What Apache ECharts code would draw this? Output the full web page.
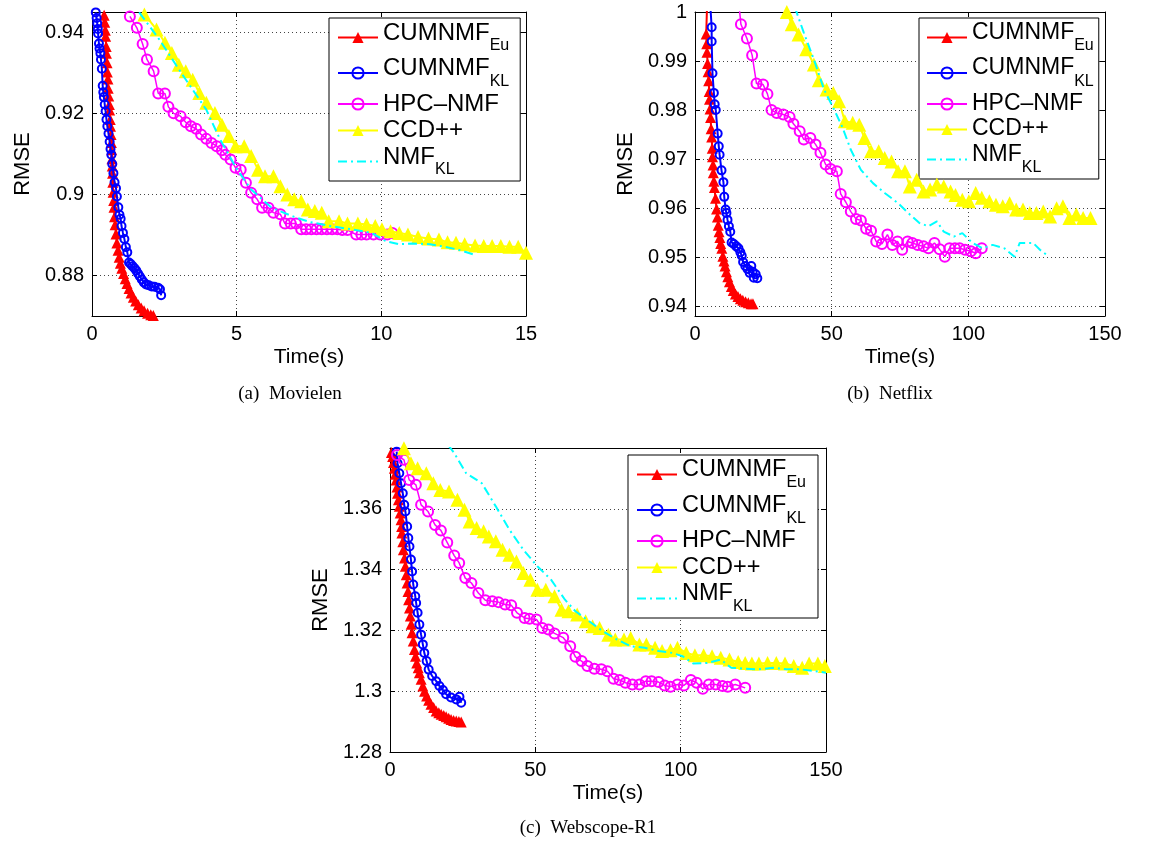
<!DOCTYPE html>
<html><head><meta charset="utf-8">
<script src="https://cdn.jsdelivr.net/npm/echarts@6/dist/echarts.min.js"></script>
<style>html,body{margin:0;padding:0;background:#fff}#c{width:1160px;height:843px}</style>
</head><body><div id="c"></div>
<script>
// ---------- names / ticks ----------
const NAMES = ['CUMNMF_Eu', 'CUMNMF_KL', 'HPC–NMF', 'CCD++', 'NMF_KL'];
const A_XTICKS = [0, 5, 10, 15];
const A_YTICKS = [0.88, 0.90, 0.92, 0.94];
const B_XTICKS = [0, 50, 100, 150];
const B_YTICKS = [0.94, 0.95, 0.96, 0.97, 0.98, 0.99, 1];
const C_XTICKS = [0, 50, 100, 150];
const C_YTICKS = [1.28, 1.30, 1.32, 1.34, 1.36];

// ---------- (a) Movielen ----------
const A_EU = [[0.42,0.9442],[0.44,0.9425],[0.46,0.9405],[0.47,0.9390],[0.49,0.9365],[0.50,0.9348],[0.52,0.9325],[0.53,0.9302],[0.55,0.9285],[0.56,0.9262],[0.58,0.9243],[0.60,0.9222],[0.61,0.9208],[0.63,0.9185],[0.64,0.9168],[0.66,0.9148],[0.67,0.9128],[0.68,0.9110],[0.69,0.9088],[0.70,0.9070],[0.71,0.9052],[0.72,0.9030],[0.73,0.9005],[0.75,0.8985],[0.76,0.8968],[0.78,0.8945],[0.80,0.8925],[0.83,0.8902],[0.86,0.8880],[0.90,0.8862],[0.94,0.8845],[0.98,0.8830],[1.03,0.8818],[1.09,0.8805],[1.15,0.8792],[1.21,0.8780],[1.28,0.8768],[1.35,0.8757],[1.43,0.8746],[1.51,0.8737],[1.60,0.8728],[1.70,0.8720],[1.80,0.8713],[1.92,0.8707],[2.03,0.8703],[2.12,0.8701]];
const A_KL = [[0.13,0.9449],[0.16,0.9435],[0.18,0.9422],[0.20,0.9408],[0.21,0.9397],[0.24,0.9372],[0.26,0.9360],[0.29,0.9348],[0.31,0.9333],[0.34,0.9310],[0.37,0.9268],[0.39,0.9252],[0.41,0.9240],[0.44,0.9222],[0.47,0.9205],[0.50,0.9185],[0.53,0.9168],[0.57,0.9150],[0.61,0.9130],[0.64,0.9112],[0.67,0.9098],[0.70,0.9075],[0.74,0.9052],[0.78,0.9030],[0.83,0.9015],[0.86,0.8995],[0.91,0.8968],[0.95,0.8950],[0.99,0.8940],[1.02,0.8922],[1.07,0.8905],[1.12,0.8890],[1.17,0.8870],[1.22,0.8857],[1.28,0.8832],[1.34,0.8828],[1.40,0.8823],[1.47,0.8818],[1.53,0.8812],[1.59,0.8805],[1.65,0.8798],[1.72,0.8790],[1.79,0.8783],[1.87,0.8778],[1.96,0.8776],[2.06,0.8773],[2.16,0.8772],[2.28,0.8770],[2.35,0.8766],[2.39,0.8751]];
const A_HPC = [[1.31,0.9439],[1.55,0.9411],[1.75,0.9371],[1.90,0.9333],[2.13,0.9304],[2.29,0.9249],[2.52,0.9249],[2.64,0.9216],[2.82,0.9200],[3.06,0.9193],[3.24,0.9178],[3.42,0.9168],[3.60,0.9162],[3.77,0.9148],[3.95,0.9137],[4.13,0.9127],[4.31,0.9119],[4.49,0.9109],[4.61,0.9098],[4.79,0.9086],[4.96,0.9066],[5.14,0.9061],[5.32,0.9029],[5.50,0.9004],[5.71,0.8988],[5.88,0.8967],[6.10,0.8967],[6.27,0.8955],[6.51,0.8951],[6.67,0.8928],[6.87,0.8928],[7.05,0.8928],[7.23,0.8914],[7.40,0.8914],[7.58,0.8914],[7.76,0.8914],[7.94,0.8914],[8.12,0.8914],[8.30,0.8914],[8.48,0.8914],[8.65,0.8912],[8.83,0.8912],[9.13,0.8901],[9.31,0.8901],[9.49,0.8901],[9.73,0.8901],[9.96,0.8901],[10.20,0.8901],[10.38,0.8905]];
const A_CCD = [[1.81,0.9444],[2.23,0.9407],[2.52,0.9374],[2.76,0.9349],[3.00,0.9320],[3.24,0.9304],[3.48,0.9283],[3.71,0.9250],[3.95,0.9226],[4.25,0.9201],[4.49,0.9172],[4.73,0.9144],[4.96,0.9119],[5.26,0.9119],[5.50,0.9095],[5.74,0.9061],[5.98,0.9045],[6.27,0.9045],[6.51,0.9020],[6.75,0.9000],[6.99,0.8988],[7.23,0.8983],[7.46,0.8963],[7.70,0.8959],[7.94,0.8955],[8.18,0.8934],[8.54,0.8934],[8.83,0.8928],[9.19,0.8928],[9.49,0.8926],[9.79,0.8922],[10.02,0.8914],[10.32,0.8909],[10.62,0.8905],[10.92,0.8901],[11.27,0.8895],[11.63,0.8891],[11.99,0.8889],[12.29,0.8882],[12.58,0.8881],[12.88,0.8877],[13.24,0.8874],[13.54,0.8873],[13.83,0.8873],[14.13,0.8873],[14.43,0.8871],[14.73,0.8871],[15.00,0.8856]];
const A_NMF = [[1.63,0.9449],[2.29,0.9386],[3.12,0.9296],[3.95,0.9209],[4.43,0.9135],[5.02,0.9061],[5.50,0.9012],[6.21,0.8967],[6.93,0.8946],[7.52,0.8932],[8.24,0.8922],[8.95,0.8914],[9.67,0.8905],[10.14,0.8885],[10.62,0.8877],[11.10,0.8879],[11.69,0.8877],[12.17,0.8871],[12.64,0.8864],[13.18,0.8852]];

// ---------- (b) Netflix ----------
const B_EU = [[4.5,1.003],[4.1,0.9955],[4.3,0.9935],[4.4,0.9918],[4.6,0.9895],[4.8,0.9878],[5.0,0.9860],[5.2,0.9838],[5.3,0.9822],[5.5,0.9802],[5.7,0.9785],[5.9,0.9762],[6.1,0.9745],[6.3,0.9722],[6.4,0.9705],[6.6,0.9688],[6.7,0.9672],[6.9,0.9655],[7.1,0.9642],[7.5,0.9620],[7.9,0.9598],[8.2,0.9582],[8.5,0.9565],[8.8,0.9552],[9.1,0.9540],[9.4,0.9528],[9.8,0.9518],[10.2,0.9502],[10.6,0.9492],[11.0,0.9482],[11.5,0.9470],[12.0,0.9460],[12.6,0.9450],[13.3,0.9440],[14.0,0.9432],[14.8,0.9425],[15.7,0.9420],[16.6,0.9415],[17.5,0.9412],[18.5,0.9409],[19.5,0.9407],[20.5,0.9405],[21.2,0.9405]];
const B_KL = [[5.4,1.003],[6.1,0.9969],[6.1,0.9940],[6.4,0.9875],[6.9,0.9835],[7.2,0.9812],[7.6,0.9800],[8.3,0.9752],[8.7,0.9726],[9.0,0.9709],[9.7,0.9677],[10.4,0.9653],[10.7,0.9623],[11.2,0.9597],[11.5,0.9590],[11.9,0.9576],[12.4,0.9563],[12.9,0.9552],[13.4,0.9530],[14.2,0.9527],[15.1,0.9522],[15.9,0.9518],[16.6,0.9510],[17.1,0.9503],[17.6,0.9490],[18.4,0.9482],[19.2,0.9476],[20.0,0.9468],[20.6,0.9482],[21.1,0.9470],[21.5,0.9458],[22.2,0.9465],[22.8,0.9457]];
const B_HPC = [[15.8,1.003],[16.8,0.9975],[19.0,0.9946],[20.9,0.9912],[22.5,0.9854],[24.9,0.9852],[26.5,0.9833],[28.0,0.9800],[29.9,0.9794],[32.3,0.9791],[34.6,0.9786],[36.0,0.9772],[38.3,0.9757],[39.8,0.9740],[42.2,0.9743],[44.1,0.9730],[45.9,0.9713],[47.8,0.9689],[49.6,0.9680],[51.9,0.9675],[53.3,0.9629],[55.2,0.9612],[57.0,0.9593],[58.9,0.9578],[60.7,0.9575],[62.6,0.9558],[64.4,0.9554],[66.3,0.9532],[68.4,0.9527],[70.4,0.9546],[72.2,0.9525],[74.1,0.9532],[75.8,0.9515],[77.8,0.9532],[79.5,0.9529],[81.5,0.9525],[83.6,0.9522],[85.4,0.9518],[87.6,0.9529],[89.5,0.9516],[91.4,0.9501],[93.1,0.9518],[95.1,0.9518],[96.8,0.9518],[98.8,0.9515],[100.9,0.9512],[102.7,0.9508],[104.9,0.9518]];
const B_CCD = [[33.6,1.0],[35.4,0.9975],[37.9,0.9954],[40.7,0.9924],[43.5,0.9893],[45.3,0.9861],[48.1,0.9842],[50.6,0.9835],[52.7,0.9818],[54.8,0.9777],[57.7,0.9774],[60.1,0.9770],[62.0,0.9743],[64.4,0.9716],[67.2,0.9716],[69.4,0.9702],[71.9,0.9695],[74.3,0.9675],[76.8,0.9675],[78.6,0.9644],[81.1,0.9658],[83.6,0.9634],[86.0,0.9638],[88.5,0.9648],[91.0,0.9644],[93.5,0.9634],[95.3,0.9627],[97.8,0.9617],[100.2,0.9614],[102.7,0.9631],[104.9,0.9621],[107.7,0.9614],[110.1,0.9607],[112.6,0.9604],[115.1,0.9610],[117.5,0.9597],[120.0,0.9597],[122.5,0.9590],[124.9,0.9590],[127.4,0.9593],[129.9,0.9583],[132.3,0.9600],[134.6,0.9604],[137.0,0.9580],[139.5,0.9587],[142.0,0.9580],[144.7,0.9580]];
const B_NMF = [[36.5,1.001],[39.8,0.9958],[43.5,0.9903],[47.2,0.9842],[50.9,0.9801],[54.0,0.9764],[57.0,0.9719],[60.7,0.9678],[65.1,0.9651],[69.4,0.9631],[74.3,0.9610],[78.0,0.9590],[82.0,0.9570],[85.4,0.9563],[88.5,0.9573],[91.0,0.9552],[94.7,0.9542],[97.8,0.9549],[101.5,0.9529],[105.2,0.9518],[108.9,0.9525],[113.2,0.9518],[116.9,0.9501],[118.8,0.9529],[123.7,0.9529],[126.2,0.9515],[128.6,0.9505]];

// ---------- (c) Webscope-R1 ----------
const C_EU = [[0.5,1.3785],[0.9,1.3772],[1.2,1.3752],[1.5,1.3733],[1.8,1.3714],[2.1,1.3695],[2.4,1.3672],[2.6,1.3651],[2.9,1.3630],[3.2,1.3608],[3.5,1.3586],[3.8,1.3564],[4.0,1.3542],[4.1,1.3520],[4.4,1.3492],[4.6,1.3465],[5.0,1.3438],[5.3,1.3411],[5.6,1.3383],[5.9,1.3356],[6.2,1.3328],[6.4,1.3301],[6.7,1.3274],[7.0,1.3247],[7.3,1.3220],[7.6,1.3192],[8.0,1.3165],[8.4,1.3137],[8.8,1.3115],[9.2,1.3093],[9.7,1.3077],[10.1,1.3061],[10.7,1.3039],[11.3,1.3017],[11.9,1.3000],[12.6,1.2984],[13.3,1.2970],[14.1,1.2957],[15.0,1.2946],[15.9,1.2935],[16.8,1.2929],[17.6,1.2924],[18.5,1.2920],[19.3,1.2916],[20.2,1.2911],[21.0,1.2907],[21.9,1.2904],[22.8,1.2902],[23.7,1.2900],[24.5,1.2899]];
const C_KL = [[2.3,1.3788],[2.6,1.3750],[3.2,1.3717],[3.8,1.3684],[4.4,1.3651],[4.9,1.3613],[5.3,1.3591],[5.9,1.3542],[6.3,1.3504],[6.7,1.3476],[7.2,1.3433],[7.6,1.3394],[8.0,1.3351],[8.7,1.3312],[9.0,1.3290],[9.5,1.3258],[10.1,1.3219],[10.7,1.3186],[11.3,1.3154],[11.8,1.3126],[12.6,1.3099],[13.3,1.3071],[14.5,1.3050],[15.9,1.3033],[17.0,1.3017],[18.2,1.3004],[19.3,1.2990],[21.0,1.2979],[22.8,1.2973],[23.9,1.2982],[24.5,1.2962]];
const C_HPC = [[2.4,1.3777],[4.8,1.3761],[6.6,1.3695],[8.9,1.3679],[10.7,1.3613],[13.1,1.3591],[15.5,1.3547],[17.5,1.3529],[19.7,1.3489],[22.1,1.3446],[23.8,1.3422],[25.9,1.3372],[28.0,1.3356],[30.4,1.3323],[32.8,1.3299],[35.2,1.3296],[37.3,1.3293],[39.6,1.3285],[41.7,1.3283],[43.7,1.3258],[46.3,1.3241],[48.0,1.3238],[50.4,1.3236],[52.4,1.3208],[54.5,1.3203],[56.6,1.3190],[59.6,1.3176],[62.0,1.3148],[63.8,1.3113],[65.9,1.3099],[67.9,1.3083],[70.3,1.3074],[72.7,1.3072],[74.8,1.3066],[76.9,1.3041],[79.0,1.3037],[81.0,1.3028],[83.4,1.3022],[85.8,1.3022],[88.0,1.3033],[90.0,1.3033],[92.4,1.3030],[94.5,1.3019],[96.5,1.3015],[98.9,1.3022],[101.1,1.3019],[103.5,1.3037],[105.5,1.3028],[107.6,1.3008],[109.7,1.3022],[112.0,1.3022],[114.4,1.3017],[116.2,1.3015],[118.8,1.3022],[122.2,1.3011]];
const C_CCD = [[4.8,1.3799],[7.2,1.3750],[9.5,1.3733],[12.5,1.3717],[14.9,1.3684],[17.3,1.3662],[20.3,1.3657],[23.2,1.3630],[25.6,1.3597],[27.4,1.3558],[29.8,1.3537],[32.2,1.3526],[34.0,1.3509],[36.4,1.3493],[38.7,1.3465],[41.1,1.3449],[43.5,1.3427],[45.9,1.3389],[48.3,1.3367],[50.7,1.3334],[53.6,1.3334],[56.6,1.3312],[59.0,1.3268],[61.4,1.3263],[64.4,1.3252],[67.3,1.3230],[69.7,1.3214],[72.1,1.3208],[75.1,1.3186],[77.5,1.3170],[80.5,1.3170],[82.8,1.3175],[85.8,1.3154],[88.2,1.3154],[91.2,1.3143],[93.6,1.3132],[96.5,1.3135],[98.9,1.3143],[101.9,1.3126],[104.9,1.3118],[107.9,1.3118],[110.8,1.3115],[113.8,1.3110],[116.8,1.3104],[119.8,1.3096],[122.2,1.3093],[124.5,1.3091],[126.9,1.3091],[129.9,1.3093],[132.9,1.3093],[135.9,1.3091],[138.9,1.3083],[141.8,1.3077],[144.2,1.3091],[147.2,1.3091],[149.6,1.3083]];
const C_NMF = [[20.0,1.3810],[22.1,1.3783],[26.2,1.3717],[31.6,1.3684],[36.4,1.3608],[41.1,1.3531],[45.9,1.3465],[50.7,1.3411],[55.4,1.3367],[60.2,1.3301],[63.8,1.3263],[68.5,1.3230],[73.3,1.3197],[78.1,1.3170],[82.8,1.3148],[87.6,1.3143],[92.4,1.3132],[97.1,1.3126],[100.7,1.3115],[104.3,1.3091],[109.1,1.3093],[113.8,1.3104],[117.4,1.3077],[122.2,1.3074],[126.9,1.3072],[131.7,1.3077],[136.5,1.3072],[141.2,1.3072],[146.0,1.3066],[150.0,1.3061]];

// ---------- styles ----------
const FONT = '"Liberation Sans", Arial, Helvetica, sans-serif';
const STYLES = [
  {color:'#ff0000', symbol:'triangle', size:11, width:2, hollow:false},
  {color:'#0000ff', symbol:'circle', size:8, width:2, hollow:true},
  {color:'#ff00ff', symbol:'circle', size:10, width:1.5, hollow:true},
  {color:'#ffff00', symbol:'triangle', size:14, width:2, hollow:false},
  {color:'#00ffff', symbol:'none', size:0, width:2, hollow:false, dash:[9,4,2,4]}
];

const PANELS = [
  {grid:{left:92, top:12, width:434, height:304}, xmin:0, xmax:15, xt:A_XTICKS, ymin:0.87, ymax:0.945, yt:A_YTICKS,
   data:[A_EU,A_KL,A_HPC,A_CCD,A_NMF], leg:{left:329, top:18, fs:24, pad:[3,11,3,8]}, cap:['(a)  Movielen',290,394]},
  {grid:{left:695, top:12, width:410, height:304}, xmin:0, xmax:150, xt:B_XTICKS, ymin:0.938, ymax:1.0, yt:B_YTICKS,
   data:[B_EU,B_KL,B_HPC,B_CCD,B_NMF], leg:{left:919, top:18, fs:23, pad:[3,5,3,7]}, cap:['(b)  Netflix',890,394]},
  {grid:{left:390, top:448, width:436, height:304}, xmin:0, xmax:150, xt:C_XTICKS, ymin:1.28, ymax:1.38, yt:C_YTICKS,
   data:[C_EU,C_KL,C_HPC,C_CCD,C_NMF], leg:{left:628, top:455, fs:23.5, pad:[3,12,3,8]}, cap:['(c)  Webscope-R1',588,828]}
];

function legendLabel(name) {
  const i = name.indexOf('_');
  return i < 0 ? '{m|' + name + '}' : '{m|' + name.slice(0, i) + '}{s|' + name.slice(i + 1) + '}';
}

const option = {animation:false, backgroundColor:'#fff', grid:[], xAxis:[], yAxis:[], series:[], legend:[], graphic:[]};
const axisLine = {show:true, onZero:false, lineStyle:{color:'#000', width:1}};
const tick = (vals) => ({show:true, inside:true, length:5, customValues:vals, lineStyle:{color:'#000'}});

PANELS.forEach((p, k) => {
  option.grid.push(Object.assign({containLabel:false}, p.grid));
  option.xAxis.push({type:'value', gridIndex:k, position:'bottom', min:p.xmin, max:p.xmax,
    axisLine, axisTick:tick(p.xt),
    axisLabel:{customValues:p.xt, color:'#000', fontFamily:FONT, fontSize:20, margin:8},
    splitLine:{show:true, lineStyle:{color:'#444', width:1, type:[1,3]}},
    name:'Time(s)', nameLocation:'middle', nameGap:31, nameTextStyle:{color:'#000', fontFamily:FONT, fontSize:21}});
  option.xAxis.push({type:'value', gridIndex:k, position:'top', min:p.xmin, max:p.xmax,
    axisLine, axisTick:tick(p.xt), axisLabel:{show:false}, splitLine:{show:false}});
  option.yAxis.push({type:'value', gridIndex:k, position:'left', min:p.ymin, max:p.ymax,
    axisLine, axisTick:tick(p.yt),
    axisLabel:{customValues:p.yt, color:'#000', fontFamily:FONT, fontSize:20, margin:8},
    splitLine:{show:true, lineStyle:{color:'#444', width:1, type:[1,3]}},
    name:'RMSE', nameLocation:'middle', nameGap:58, nameRotate:90, nameTextStyle:{color:'#000', fontFamily:FONT, fontSize:22}});
  option.yAxis.push({type:'value', gridIndex:k, position:'right', min:p.ymin, max:p.ymax,
    axisLine, axisTick:tick(p.yt), axisLabel:{show:false}, splitLine:{show:false}});

  p.data.forEach((d, i) => {
    const s = STYLES[i];
    option.series.push({
      type:'line', name:NAMES[i], xAxisIndex:2*k, yAxisIndex:2*k, data:d, clip:true,
      symbol:s.symbol, symbolSize:s.size, showSymbol:s.symbol !== 'none',
      lineStyle:{color:s.color, width:s.width, type:s.dash || 'solid'},
      itemStyle: s.hollow ? {color:'rgba(255,255,255,0)', borderColor:s.color, borderWidth:2}
                          : {color:s.color, borderWidth:0},
      z: 2 + i
    });
  });

  option.legend.push({
    orient:'vertical', left:p.leg.left, top:p.leg.top, padding:p.leg.pad, itemGap:2.5,
    itemWidth:40, itemHeight:14, backgroundColor:'#fff', borderColor:'#000', borderWidth:1, borderRadius:0,
    selectedMode:false,
    data: NAMES.map((n, i) => {
      const s = STYLES[i];
      if (i === 4) return {name:n, itemStyle:{opacity:0}};
      if (s.hollow) return {name:n, itemStyle:{color:'rgba(255,255,255,0)', borderColor:s.color, borderWidth:2}};
      return {name:n};
    }),
    formatter: legendLabel,
    textStyle:{color:'#000', fontFamily:FONT, rich:{
      m:{fontSize:p.leg.fs, fontFamily:FONT, color:'#000', lineHeight:24, verticalAlign:'top'},
      s:{fontSize:16, fontFamily:FONT, color:'#000', padding:[17,0,0,0], verticalAlign:'top'}
    }}
  });

  option.graphic.push({type:'text', x:p.cap[1], y:p.cap[2],
    style:{text:p.cap[0], font:'19px "Liberation Serif", "Times New Roman", serif', fill:'#000', textAlign:'center', textVerticalAlign:'middle'}});
});

const chart = echarts.init(document.getElementById('c'), null, {renderer:'canvas'});
chart.setOption(option);
</script></body></html>
